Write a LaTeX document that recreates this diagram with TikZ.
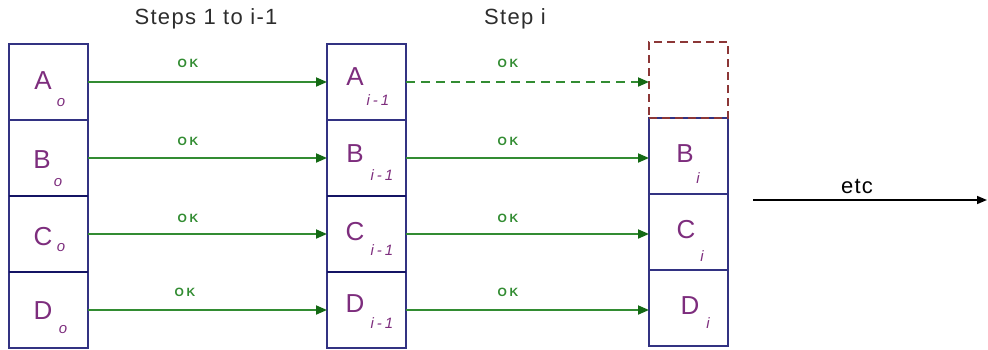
\documentclass[tikz,border=0pt]{standalone}
\usepackage{fontspec}
\setmainfont{Liberation Sans}
\usetikzlibrary{arrows.meta}

\definecolor{boxblue}{RGB}{50,50,130}
\definecolor{sepblue}{RGB}{20,20,100}
\definecolor{letterpurple}{RGB}{125,45,125}
\definecolor{okgreen}{RGB}{50,140,50}
\definecolor{headgreen}{RGB}{20,105,20}
\definecolor{ghostred}{RGB}{140,55,55}
\definecolor{titlegray}{RGB}{45,45,45}

\tikzset{
  cell/.style={draw=boxblue, line width=1.5pt, minimum width=79pt,
    minimum height=76pt, inner sep=0pt, outer sep=0pt},
  ghost/.style={cell, draw=ghostred, dash pattern=on 8pt off 5pt},
  sepline/.style={draw=sepblue, line width=2.6pt},
  letter/.style={text=letterpurple, inner sep=0pt,
    font=\fontsize{26}{26}\selectfont\addfontfeature{LetterSpace=4}},
  sub/.style={text=letterpurple, inner sep=0pt,
    font=\itshape\fontsize{15}{15}\selectfont\addfontfeature{LetterSpace=20}},
  flow/.style={draw=okgreen, line width=1.8pt,
    -{Triangle[length=11pt,width=9pt,color=headgreen]}},
  oklabel/.style={text=okgreen, inner sep=0pt,
    font=\bfseries\fontsize{12}{12}\selectfont\addfontfeature{LetterSpace=22}},
  title/.style={text=titlegray, inner sep=0pt,
    font=\fontsize{22}{22}\selectfont\addfontfeature{LetterSpace=6}},
}

\begin{document}
\begin{tikzpicture}[x=1pt, y=-1pt]
  \useasboundingbox (0,0) rectangle (988,349);

  % headings
  \node[title] (t1) at (206,19) {Steps 1 to i-1};
  \node[title] (t2) at (515,19) {Step i};

  % column 0
  \node[cell] (a0) at (48.5,82)  {};
  \node[cell] (b0) at (48.5,158) {};
  \node[cell] (c0) at (48.5,234) {};
  \node[cell] (d0) at (48.5,310) {};

  % column i-1
  \node[cell] (a1) at (366.5,82)  {};
  \node[cell] (b1) at (366.5,158) {};
  \node[cell] (c1) at (366.5,234) {};
  \node[cell] (d1) at (366.5,310) {};

  % column i (first element gone)
  \node[cell] (b2) at (688.5,156) {};
  \node[cell] (c2) at (688.5,232) {};
  \node[cell] (d2) at (688.5,308) {};
  \node[ghost] (a2) at (688.5,80) {};

  % heavier separators
  \draw[sepline] (b0.south west) -- (b0.south east);
  \draw[sepline] (c0.south west) -- (c0.south east);
  \draw[sepline] (b1.south west) -- (b1.south east);
  \draw[sepline] (c1.south west) -- (c1.south east);

  % element names
  \node[letter] (la0) at (43,81)  {A};  \node[sub] (sa0) at (61,103) {o};
  \node[letter] (lb0) at (42,160) {B};  \node[sub] (sb0) at (58,183) {o};
  \node[letter] (lc0) at (43,237) {C};  \node[sub] (sc0) at (61,248) {o};
  \node[letter] (ld0) at (43,311) {D};  \node[sub] (sd0) at (63,330) {o};

  \node[letter] (la1) at (355,77)  {A}; \node[sub] (sa1) at (378,100) {i-1};
  \node[letter] (lb1) at (355,154) {B}; \node[sub] (sb1) at (382,175) {i-1};
  \node[letter] (lc1) at (355,232) {C}; \node[sub] (sc1) at (382,250) {i-1};
  \node[letter] (ld1) at (355,304) {D}; \node[sub] (sd1) at (382,323) {i-1};

  \node[letter] (lb2) at (685,154) {B}; \node[sub] (sb2) at (698,178) {i};
  \node[letter] (lc2) at (686,230) {C}; \node[sub] (sc2) at (702,256) {i};
  \node[letter] (ld2) at (690,306) {D}; \node[sub] (sd2) at (708,323) {i};

  % transitions, steps 1 to i-1
  \draw[flow] (a0.east) -- (a1.west);
  \draw[flow] (b0.east) -- (b1.west);
  \draw[flow] (c0.east) -- (c1.west);
  \draw[flow] (d0.east) -- (d1.west);
  \node[oklabel] (ok1) at (188,63)  {OK};
  \node[oklabel] (ok2) at (188,141) {OK};
  \node[oklabel] (ok3) at (188,218) {OK};
  \node[oklabel] (ok4) at (185,292) {OK};

  % transitions, step i
  \draw[flow, dash pattern=on 9pt off 6pt] (a1.east) -- (a2.west |- a1.east);
  \draw[flow] (b1.east) -- (b2.west |- b1.east);
  \draw[flow] (c1.east) -- (c2.west |- c1.east);
  \draw[flow] (d1.east) -- (d2.west |- d1.east);
  \node[oklabel] (ok5) at (508,63)  {OK};
  \node[oklabel] (ok6) at (508,141) {OK};
  \node[oklabel] (ok7) at (508,218) {OK};
  \node[oklabel] (ok8) at (508,292) {OK};

  % continuation
  \coordinate (etcstart) at (753,200);
  \coordinate (etcend) at (987,200);
  \draw[line width=1.6pt, -{Triangle[length=10pt,width=8pt]}] (etcstart) -- (etcend);
  \node[title, text=black] (etc) at (857,186) {etc};
\end{tikzpicture}
\end{document}
